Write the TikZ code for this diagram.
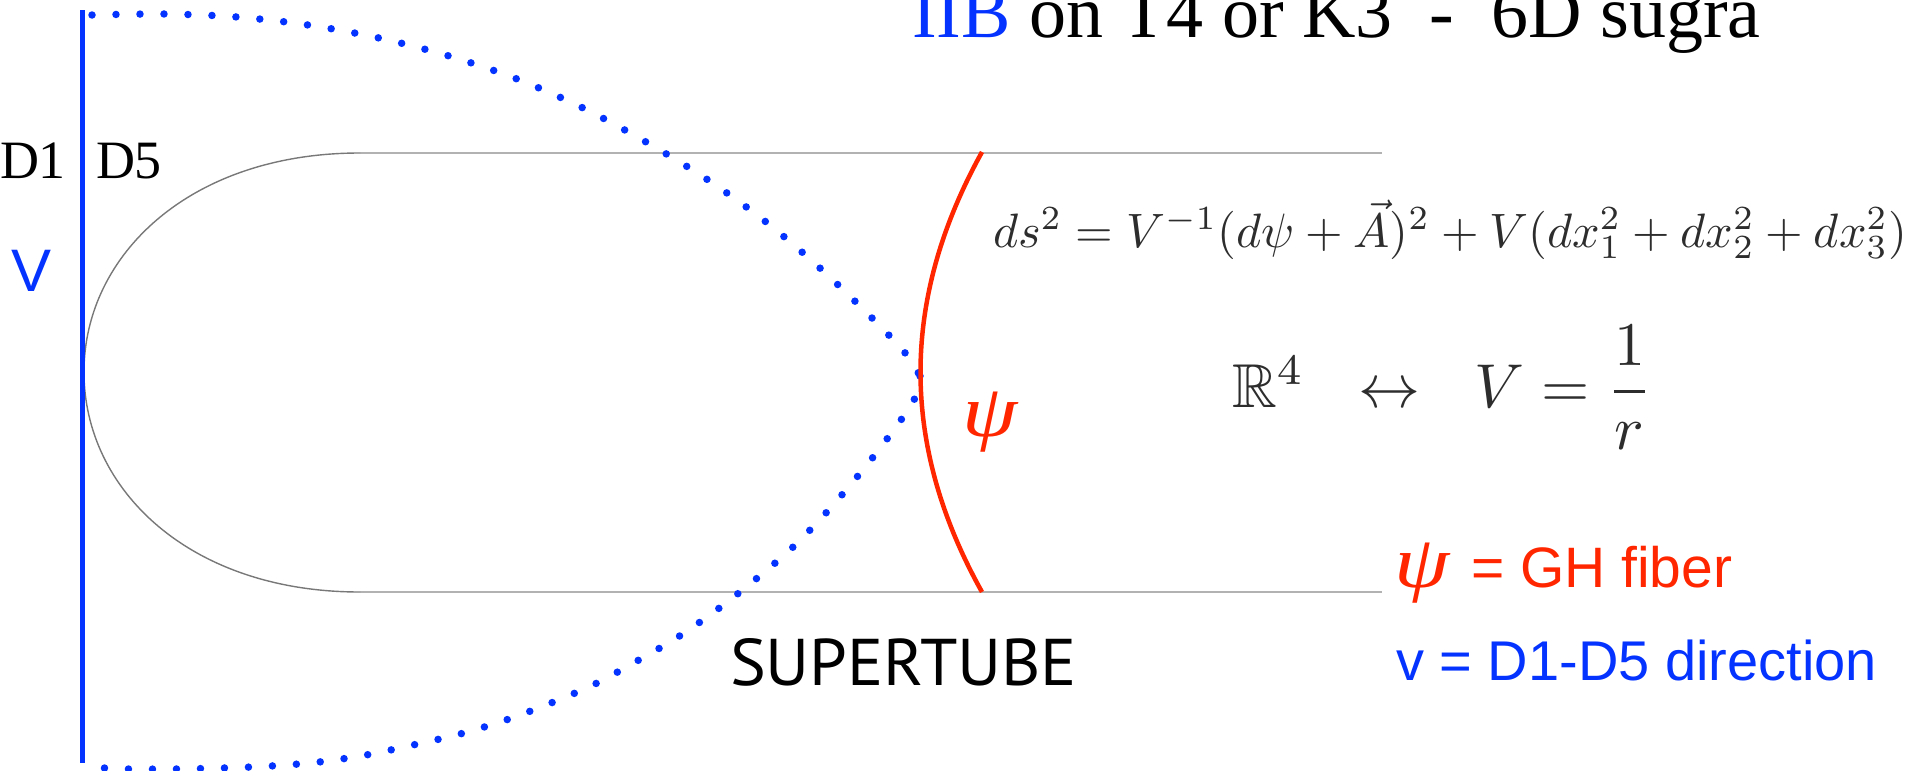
\documentclass[tikz,border=0pt]{standalone}
\usepackage{amsmath,amssymb}
\usepackage{graphicx}
\usepackage{fontspec}
\setmainfont{Liberation Serif}
\setsansfont{Liberation Sans}
\newfontfamily\ptsans{PT Sans}
\definecolor{myblue}{RGB}{4,51,255}
\definecolor{myred}{RGB}{255,38,0}
\definecolor{eqgray}{RGB}{45,45,45}
\definecolor{tubegray}{RGB}{178,178,178}
\definecolor{curvegray}{RGB}{120,120,120}
\newcommand{\bigpsi}{\scalebox{1.2}[1]{\fontsize{74}{80}\selectfont\itshape ψ}}
\begin{document}
\begin{tikzpicture}[x=1pt,y=-1pt,
  lbl/.style={inner sep=0pt, outer sep=0pt, anchor=base west},
  dotline/.style={draw=myblue, line width=7.5pt, line cap=round, dash pattern=on 0pt off 24pt},
  tubeline/.style={draw=tubegray, line width=2pt},
  tubecurve/.style={draw=curvegray, line width=1.4pt},
  redfiber/.style={draw=myred, line width=4.5pt},
  blueline/.style={draw=myblue, line width=4.5pt},
  eqtwo/.style={lbl, text=eqgray}]
\useasboundingbox (0,0) rectangle (1915,771);
% coordinates
\coordinate (tubeTL) at (360,153);
\coordinate (tubeTR) at (1382,153);
\coordinate (tubeBL) at (360,592);
\coordinate (tubeBR) at (1382,592);
\coordinate (tubeTip) at (84,372);
\coordinate (vTop) at (82.5,10);
\coordinate (vBot) at (82.5,763);
\coordinate (fTop) at (982,152);
\coordinate (fBot) at (982,592);
% supertube outline
\draw[tubeline] (tubeTL) -- (tubeTR);
\draw[tubeline] (tubeBL) -- (tubeBR);
\draw[tubecurve] (tubeTL) .. controls (190,153) and (84,255) .. (tubeTip)
  .. controls (84,490) and (190,592) .. (tubeBL);
% dotted curve
\draw[dotline] plot[smooth, tension=0.55] coordinates {(92,15) (165,14) (237,17) (308,25) (379,38) (449,56) (517,79) (583,108) (646,142) (708,180) (766,222) (821,269) (873,319) (906,354) (920,376)};
\draw[dotline] plot[smooth, tension=0.55] coordinates {(920,376) (914,400) (887,439) (857,477) (825,514) (792,548) (756,579) (718,609) (678,637) (637,661) (595,684) (551,703) (506,720) (460,734) (413,745) (366,755) (319,762) (271,766) (223,768) (175,769) (128,769) (104,768)};
% blue D1-D5 line
\draw[blueline] (vTop) -- (vBot);
% red fiber
\draw[redfiber] (fTop) .. controls (900,300) and (900,445) .. (fBot);
% labels
\node[lbl, font=\fontsize{54}{60}\selectfont] (d1) at (0,178) {D1};
\node[lbl, font=\fontsize{54}{60}\selectfont] (d5) at (96,178) {D5};
\node[lbl, text=myblue, font=\sffamily\fontsize{60}{66}\selectfont] (vlab) at (12,291) {V};
\node[lbl, font=\fontsize{74}{80}\selectfont] (title) at (912,37) {\textcolor{myblue}{IIB} on T4 or K3~~-~~6D sugra};
\node[lbl, text=eqgray] (metric) at (993,247) {\resizebox{914pt}{!}{$ds^2=V^{-1}(d\psi+\vec{A})^2+V(dx_1^2+dx_2^2+dx_3^2)$}};
\node[eqtwo] (rfour) at (1232,407) {\scalebox{6.2}{$\mathbb{R}^4$}};
\node[eqtwo] (lrarrow) at (1358,407) {\scalebox{6.2}{$\leftrightarrow$}};
\node[eqtwo] (vfrac) at (1474,407) {\scalebox{6.2}{$V=\dfrac{1}{r}$}};
\node[lbl, text=myred] (psilab) at (962,436) {\bigpsi};
\node[lbl, font=\ptsans] (supertube) at (730,685) {\resizebox{347pt}{47pt}{SUPERTUBE}};
\node[lbl, text=myred] (psileg) at (1394,587) {\bigpsi};
\node[lbl, text=myred, font=\sffamily\fontsize{57}{64}\selectfont] (ghfiber) at (1471,587) {= GH fiber};
\node[lbl, text=myblue, font=\sffamily\fontsize{56}{64}\selectfont] (vdir) at (1396,680) {v = D1-D5 direction};
\end{tikzpicture}
\end{document}
